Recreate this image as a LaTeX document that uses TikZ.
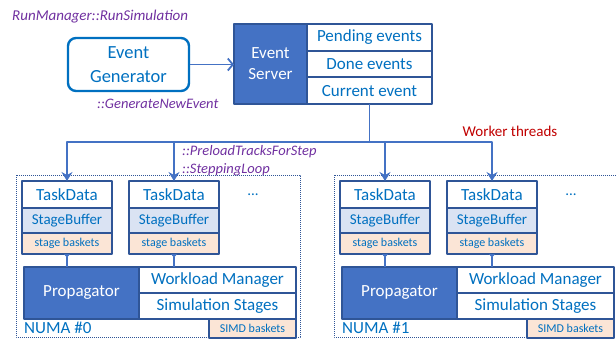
\documentclass[tikz,border=0pt]{standalone}
\usepackage{fontspec}
\setmainfont{Carlito}
\usetikzlibrary{positioning,arrows.meta}
\definecolor{fillblue}{HTML}{4472C4}
\definecolor{edgeblue}{HTML}{2F5597}
\definecolor{textblue}{HTML}{0070C0}
\definecolor{callpurple}{HTML}{7030A0}
\definecolor{workred}{HTML}{C00000}
\definecolor{bufblue}{HTML}{DAE3F3}
\definecolor{bskorange}{HTML}{FBE5D6}
\begin{document}
\begin{tikzpicture}[x=1pt,y=-1pt, line join=round,
	cell/.style={draw=edgeblue, line width=2pt, fill=white, text=textblue, inner sep=0pt, outer sep=0pt, font=\fontsize{17}{20}\selectfont},
	blk/.style={cell, fill=fillblue, text=white},
	small/.style={font=\fontsize{12}{14}\selectfont},
	call/.style={text=callpurple, font=\fontsize{14.5}{17}\selectfont\itshape, inner sep=0pt, anchor=west},
	link/.style={draw=fillblue, line width=1.4pt}]
	\useasboundingbox (0,0) rectangle (616,338);
	% event loop
	\node[call, font=\fontsize{15}{18}\selectfont\itshape] (run) at (12,17) {RunManager::RunSimulation};
	\node[draw=textblue, line width=2.4pt, rounded corners=8pt, minimum width=121pt, minimum height=53pt, text=textblue, align=center, font=\fontsize{18.5}{24}\selectfont] (gen) at (128.5,64.5) {Event\\Generator};
	\node[blk, minimum width=73pt, minimum height=80pt, align=center, font=\fontsize{17}{21}\selectfont] (srv) at (270.5,64) {Event\\Server};
	\node[cell, minimum width=125pt, minimum height=26.7pt, anchor=north west] (pend) at (srv.north east) {Pending events};
	\node[cell, minimum width=125pt, minimum height=26.7pt, below=0pt of pend] (done) {Done events};
	\node[cell, minimum width=125pt, minimum height=26.7pt, below=0pt of done] (cur) {Current event};
	\draw[link, line width=1.8pt, -{Straight Barb[length=5pt,width=12pt]}] (gen.east) -- (gen.east -| srv.west);
	\node[call] (gne) at (97,104) {::GenerateNewEvent};
	\coordinate (fork) at ([yshift=-38pt]cur.south);
	\draw[link] (cur.south) -- (fork);
	\node[text=workred, font=\fontsize{15}{18}\selectfont] (wt) at (510,131) {Worker threads};
	\node[call] (plt) at (182,152) {::PreloadTracksForStep};
	\node[call] (stl) at (182,170) {::SteppingLoop};
	% NUMA domains
	\foreach \o/\n in {0/0,318/1}{
		\draw[edgeblue, line width=0.8pt, dash pattern=on 0.8pt off 1.2pt] (16+\o,175) rectangle (300+\o,337);
		\node[cell, minimum width=90pt, minimum height=27pt, anchor=north west] (tdA\n) at (22+\o,181) {TaskData};
		\node[cell, fill=bufblue, minimum width=90pt, minimum height=25pt, font=\fontsize{15}{18}\selectfont, below=0pt of tdA\n] (sbA\n) {StageBuffer};
		\node[cell, fill=bskorange, minimum width=90pt, minimum height=21pt, small, below=0pt of sbA\n] (bkA\n) {stage baskets};
		\node[cell, minimum width=90pt, minimum height=27pt, anchor=north west] (tdB\n) at (129+\o,181) {TaskData};
		\node[cell, fill=bufblue, minimum width=90pt, minimum height=25pt, font=\fontsize{15}{18}\selectfont, below=0pt of tdB\n] (sbB\n) {StageBuffer};
		\node[cell, fill=bskorange, minimum width=90pt, minimum height=21pt, small, below=0pt of sbB\n] (bkB\n) {stage baskets};
		\node[text=textblue, font=\fontsize{15}{18}\selectfont] (dots\n) at (253+\o,195) {...};
		\node[blk, minimum width=115pt, minimum height=52pt, anchor=north west] (prop\n) at (24+\o,267) {Propagator};
		\node[cell, minimum width=157pt, minimum height=26pt, anchor=north west] (wm\n) at (prop\n.north east) {Workload Manager};
		\node[cell, minimum width=157pt, minimum height=26pt, below=0pt of wm\n] (ss\n) {Simulation Stages};
		\node[cell, fill=bskorange, minimum width=87pt, minimum height=19pt, small, anchor=north east] (simd\n) at (ss\n.south east) {SIMD baskets};
		\node[text=textblue, anchor=west, inner sep=0pt, font=\fontsize{17}{20}\selectfont] (numa\n) at (24+\o,328) {NUMA \#\n};
		\draw[link, {Triangle[reversed,length=3.5pt,width=6pt]}-] (bkA\n) -- (bkA\n.south |- prop\n.north);
		\draw[link, {Triangle[reversed,length=3.5pt,width=6pt]}-] (bkB\n) -- (bkB\n.south |- prop\n.north);
		\draw[link, -{Stealth[length=9pt,width=11pt,inset=3pt]}] (fork) -| (tdA\n.north);
		\draw[link, -{Stealth[length=9pt,width=11pt,inset=3pt]}] (fork) -| (tdB\n.north);
	}
\end{tikzpicture}
\end{document}
